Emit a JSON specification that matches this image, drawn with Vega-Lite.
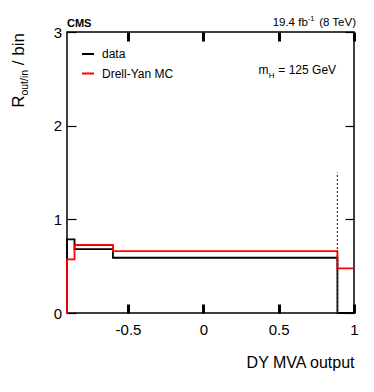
{
  "$schema": "https://vega.github.io/schema/vega-lite/v6.json",
  "width": 287,
  "height": 281,
  "autosize": {"type": "none"},
  "padding": {"left": 67, "top": 32, "right": 20, "bottom": 79},
  "background": "white",
  "config": {
    "font": "Liberation Sans",
    "view": {"stroke": "black", "strokeWidth": 1.5},
    "axis": {
      "grid": false,
      "domain": false,
      "tickColor": "black",
      "labelColor": "black",
      "labelFont": "Liberation Sans",
      "titleFont": "Liberation Sans",
      "titleColor": "black",
      "titleFontWeight": "normal",
      "labelFlush": false,
      "labelOverlap": false
    },
    "legend": {
      "orient": "none",
      "legendX": 14,
      "legendY": 15,
      "padding": 0,
      "symbolType": "stroke",
      "symbolStrokeWidth": 2,
      "symbolSize": 144,
      "labelFontSize": 12,
      "labelFont": "Liberation Sans",
      "labelColor": "black",
      "labelOffset": 7,
      "rowPadding": 6.5
    },
    "text": {"font": "Liberation Sans", "color": "black"}
  },
  "datasets": {
    "hist": [
      {"series": "data", "i": 0, "x": -0.905, "y": 0},
      {"series": "data", "i": 1, "x": -0.905, "y": 0.787},
      {"series": "data", "i": 2, "x": -0.855, "y": 0.683},
      {"series": "data", "i": 3, "x": -0.6, "y": 0.59},
      {"series": "data", "i": 4, "x": 0.89, "y": 0},
      {"series": "data", "i": 5, "x": 1.0, "y": 0},
      {"series": "Drell-Yan MC", "i": 0, "x": -0.905, "y": 0},
      {"series": "Drell-Yan MC", "i": 1, "x": -0.905, "y": 0.573},
      {"series": "Drell-Yan MC", "i": 2, "x": -0.855, "y": 0.726},
      {"series": "Drell-Yan MC", "i": 3, "x": -0.6, "y": 0.66},
      {"series": "Drell-Yan MC", "i": 4, "x": 0.89, "y": 0.477},
      {"series": "Drell-Yan MC", "i": 5, "x": 1.0, "y": 0.477}
    ]
  },
  "resolve": {"axis": {"x": "independent", "y": "independent"}},
  "layer": [
    {
      "data": {"name": "hist"},
      "transform": [{"filter": "datum.series === 'data'"}],
      "mark": {"type": "line", "interpolate": "step-after", "strokeWidth": 1.8},
      "encoding": {
        "x": {
          "field": "x", "type": "quantitative",
          "scale": {"domain": [-0.905, 1], "nice": false, "zero": false},
          "axis": {"orient": "bottom", "values": [-0.5, 0, 0.5, 1], "tickSize": -9, "tickWidth": 3, "labelExpr": "'' + datum.value", "labelFontSize": 15, "labelPadding": 18, "title": "DY MVA output", "titleFontSize": 16, "titleAnchor": "end", "titlePadding": 17}
        },
        "y": {
          "field": "y", "type": "quantitative",
          "scale": {"domain": [0, 3], "nice": false, "zero": false},
          "axis": {"orient": "left", "values": [0, 1, 2, 3], "tickSize": -9, "tickWidth": 1.2, "labelFontSize": 15, "labelPadding": 14.5, "title": null}
        },
        "color": {
          "field": "series", "type": "nominal",
          "scale": {"domain": ["data", "Drell-Yan MC"], "range": ["#000000", "#ff0000"]},
          "legend": {"title": null}
        },
        "order": {"field": "i"}
      }
    },
    {
      "data": {"name": "hist"},
      "transform": [{"filter": "datum.series === 'Drell-Yan MC'"}],
      "mark": {"type": "line", "interpolate": "step-after", "strokeWidth": 1.8},
      "encoding": {
        "x": {"field": "x", "type": "quantitative", "axis": {"orient": "top", "values": [-0.5, 0, 0.5, 1], "labels": false, "tickWidth": 3, "tickSize": -9, "title": null}},
        "y": {"field": "y", "type": "quantitative", "axis": {"orient": "right", "values": [0, 1, 2, 3], "labels": false, "tickWidth": 1.2, "tickSize": -9, "title": null}},
        "color": {"field": "series", "type": "nominal"},
        "order": {"field": "i"}
      }
    },
    {
      "data": {"values": [{}]},
      "mark": {"type": "rule", "strokeDash": [2, 2], "strokeWidth": 1.2, "color": "#333333"},
      "encoding": {
        "x": {"datum": 0.89, "type": "quantitative", "axis": null},
        "y": {"datum": 0, "type": "quantitative", "axis": null},
        "y2": {"datum": 1.5}
      }
    },
    {
      "data": {"values": [{}]},
      "mark": {"type": "text", "text": "CMS", "align": "left", "baseline": "alphabetic", "dy": -5.3, "fontSize": 11, "fontWeight": "bold"},
      "encoding": {"x": {"datum": -0.905, "type": "quantitative", "axis": null}, "y": {"datum": 3, "type": "quantitative", "axis": null}}
    },
    {
      "data": {"values": [{}]},
      "mark": {"type": "text", "text": "(8 TeV)", "align": "right", "baseline": "alphabetic", "dx": 2, "dy": -5.6, "fontSize": 11.5},
      "encoding": {"x": {"datum": 1, "type": "quantitative", "axis": null}, "y": {"datum": 3, "type": "quantitative", "axis": null}}
    },
    {
      "data": {"values": [{}]},
      "mark": {"type": "text", "text": "-1", "align": "right", "baseline": "alphabetic", "dx": -39.5, "dy": -10.6, "fontSize": 7.5},
      "encoding": {"x": {"datum": 1, "type": "quantitative", "axis": null}, "y": {"datum": 3, "type": "quantitative", "axis": null}}
    },
    {
      "data": {"values": [{}]},
      "mark": {"type": "text", "text": "19.4 fb", "align": "right", "baseline": "alphabetic", "dx": -46.2, "dy": -5.6, "fontSize": 11.5},
      "encoding": {"x": {"datum": 1, "type": "quantitative", "axis": null}, "y": {"datum": 3, "type": "quantitative", "axis": null}}
    },
    {
      "data": {"values": [{}]},
      "mark": {"type": "text", "text": "= 125 GeV", "align": "right", "baseline": "alphabetic", "fontSize": 12},
      "encoding": {"x": {"datum": 0.881, "type": "quantitative", "axis": null}, "y": {"datum": 2.554, "type": "quantitative", "axis": null}}
    },
    {
      "data": {"values": [{}]},
      "mark": {"type": "text", "text": "H", "align": "right", "baseline": "alphabetic", "dx": -61.5, "dy": 4, "fontSize": 8},
      "encoding": {"x": {"datum": 0.881, "type": "quantitative", "axis": null}, "y": {"datum": 2.554, "type": "quantitative", "axis": null}}
    },
    {
      "data": {"values": [{}]},
      "mark": {"type": "text", "text": "m", "align": "right", "baseline": "alphabetic", "dx": -67.5, "fontSize": 12},
      "encoding": {"x": {"datum": 0.881, "type": "quantitative", "axis": null}, "y": {"datum": 2.554, "type": "quantitative", "axis": null}}
    },
    {
      "data": {"values": [{}]},
      "mark": {"type": "text", "text": "R", "align": "left", "baseline": "alphabetic", "angle": 270, "fontSize": 17},
      "encoding": {"x": {"datum": -1.19, "type": "quantitative", "axis": null}, "y": {"datum": 2.19, "type": "quantitative", "axis": null}}
    },
    {
      "data": {"values": [{}]},
      "mark": {"type": "text", "text": "out/in", "align": "left", "baseline": "alphabetic", "angle": 270, "dx": 12.3, "dy": 4, "fontSize": 10.5},
      "encoding": {"x": {"datum": -1.19, "type": "quantitative", "axis": null}, "y": {"datum": 2.19, "type": "quantitative", "axis": null}}
    },
    {
      "data": {"values": [{}]},
      "mark": {"type": "text", "text": "/ bin", "align": "left", "baseline": "alphabetic", "angle": 270, "dx": 42.7, "fontSize": 17},
      "encoding": {"x": {"datum": -1.19, "type": "quantitative", "axis": null}, "y": {"datum": 2.19, "type": "quantitative", "axis": null}}
    }
  ]
}
